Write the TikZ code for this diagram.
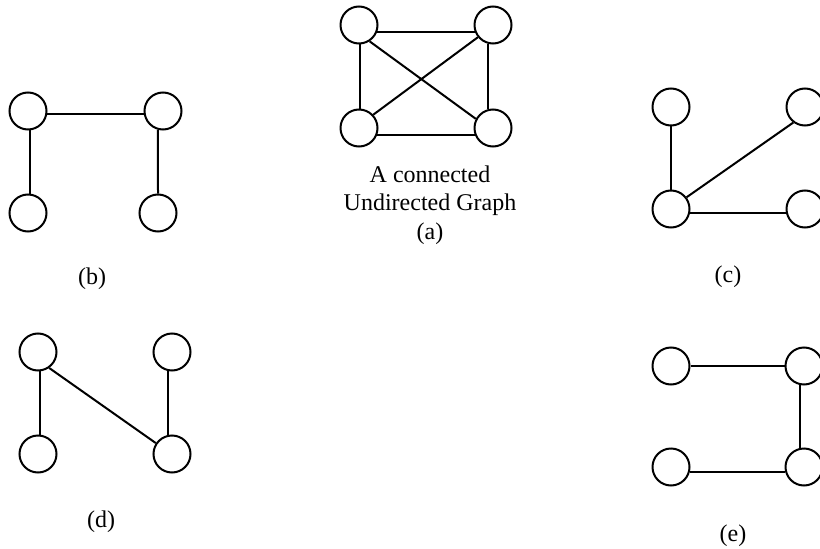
\documentclass[tikz,border=0pt]{standalone}
\usepackage{fontspec}
\setmainfont{Liberation Serif}
\begin{document}
\begin{tikzpicture}[x=0.75pt,y=-0.75pt,
  vtx/.style={circle,draw,line width=1.5pt,minimum size=27.75pt,inner sep=0pt},
  edg/.style={line width=1.5pt},
  lbl/.style={font=\fontsize{18}{21.5}\selectfont,inner sep=0pt,align=center}]
\useasboundingbox (0,0) rectangle (820,549);
% (a)
\node[vtx] (a1) at (359,25) {};
\node[vtx] (a2) at (493,25) {};
\node[vtx] (a3) at (359,128) {};
\node[vtx] (a4) at (493,128) {};
\draw[edg] (a1.-22) -- (a2.202);
\draw[edg] (a3.-22) -- (a4.202);
\draw[edg] (a1.-87) -- (a3.87);
\draw[edg] (a2.-106) -- (a4.106);
\draw[edg] (a1.-57) -- (a4.152);
\draw[edg] (a3.43) -- (a2.219);
\node[lbl] (ta) at (430,205) {A connected\\Undirected Graph\\(a)};
% (b)
\node[vtx] (b1) at (28,111) {};
\node[vtx] (b2) at (163,111) {};
\node[vtx] (b3) at (28,213) {};
\node[vtx] (b4) at (158,213) {};
\draw[edg] (b1.-9) -- (b2.189);
\draw[edg] (b1.-84) -- (b3.84);
\draw[edg] (b2.-105) -- (b4.90);
\node[lbl] (tb) at (92,279) {(b)};
% (c)
\node[vtx] (c1) at (671,107) {};
\node[vtx] (c2) at (805,107) {};
\node[vtx] (c3) at (671,209) {};
\node[vtx] (c4) at (805,209) {};
\draw[edg] (c1.south) -- (c3.north);
\draw[edg] (c3.37) -- (c2.233);
\draw[edg] (c3.-12) -- (c4.192);
\node[lbl] (tc) at (728,277) {(c)};
% (d)
\node[vtx] (d1) at (38,352) {};
\node[vtx] (d2) at (172,352) {};
\node[vtx] (d3) at (38,454) {};
\node[vtx] (d4) at (172,454) {};
\draw[edg] (d1.-84) -- (d3.84);
\draw[edg] (d1.-55) -- (d4.146);
\draw[edg] (d2.-102) -- (d4.102);
\node[lbl] (td) at (101,522) {(d)};
% (e)
\node[vtx] (e1) at (671,366) {};
\node[vtx] (e2) at (804,366) {};
\node[vtx] (e3) at (671,467) {};
\node[vtx] (e4) at (804,467) {};
\draw[edg] (e1.east) -- (e2.west);
\draw[edg] (e2.-102) -- (e4.102);
\draw[edg] (e3.-16) -- (e4.196);
\node[lbl] (te) at (733,536) {(e)};
\end{tikzpicture}
\end{document}
